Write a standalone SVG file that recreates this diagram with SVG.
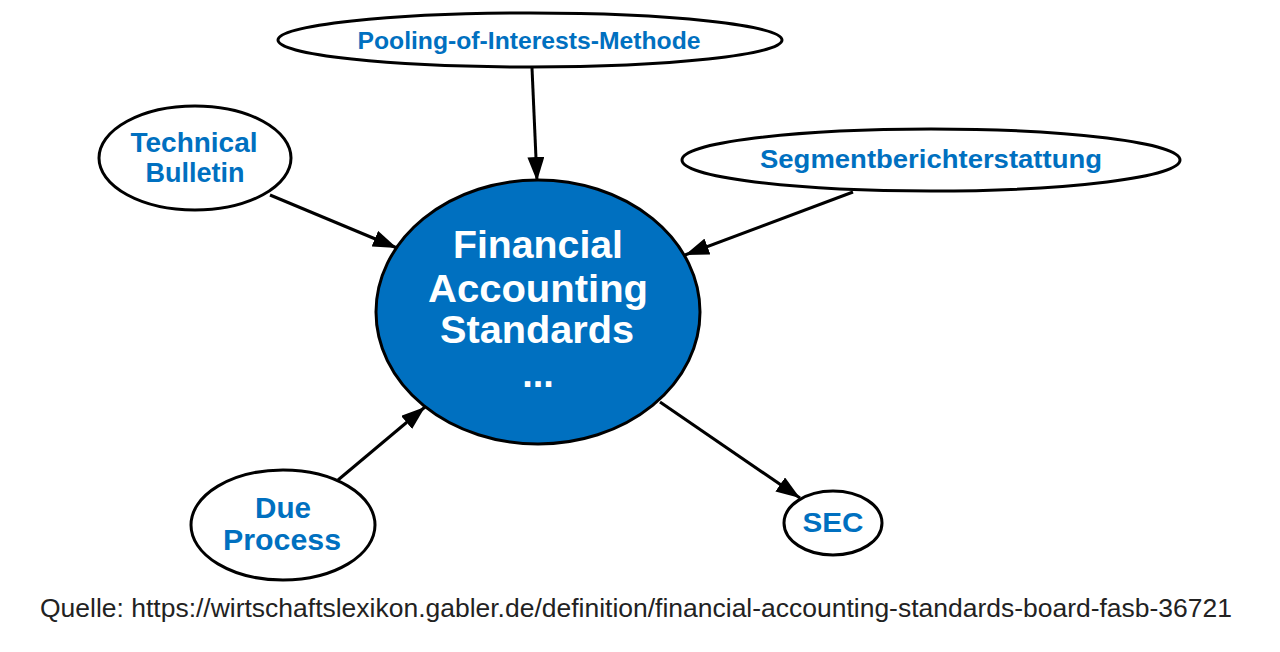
<svg xmlns="http://www.w3.org/2000/svg" width="1280" height="652" viewBox="0 0 1280 652">
<style>
.n{fill:#fff;stroke:#000;stroke-width:3}
.c{fill:#0070c0;stroke:#000;stroke-width:3}
.t{font-family:"Liberation Sans",Arial,sans-serif;font-weight:bold;fill:#0070c0;text-anchor:middle}
.ct{font-family:"Liberation Sans",Arial,sans-serif;font-weight:bold;font-size:38px;fill:#fff;text-anchor:middle}
.f{font-family:"Liberation Sans",Arial,sans-serif;font-size:25px;fill:#222}
</style>
<defs>
<marker id="b" viewBox="0 0 24 17" refX="24" refY="8.5" markerWidth="24" markerHeight="17" orient="auto" markerUnits="userSpaceOnUse">
<path d="M0,0 L24,8.5 L0,17 z" fill="#000"/>
</marker>
</defs>
<rect width="1280" height="652" fill="#fff"/>
<g id="connectors" stroke="#000" stroke-width="3" fill="none">
<line x1="532" y1="68" x2="537" y2="181" marker-end="url(#b)"/>
<line x1="270" y1="195" x2="397" y2="248" marker-end="url(#b)"/>
<line x1="853" y1="192" x2="685" y2="255" marker-end="url(#b)"/>
<line x1="338" y1="480" x2="425" y2="407" marker-end="url(#b)"/>
<line x1="660" y1="402" x2="800" y2="498" marker-end="url(#b)"/>
</g>
<g id="pooling">
<ellipse class="n" cx="530" cy="40" rx="252" ry="27"/>
<text class="t" x="529" y="49" font-size="24" textLength="343" lengthAdjust="spacingAndGlyphs">Pooling-of-Interests-Methode</text>
</g>
<g id="technical">
<ellipse class="n" cx="195" cy="158" rx="96" ry="52"/>
<text class="t" x="194" y="152" font-size="27" textLength="127" lengthAdjust="spacingAndGlyphs">Technical</text>
<text class="t" x="195" y="182" font-size="27" textLength="99" lengthAdjust="spacingAndGlyphs">Bulletin</text>
</g>
<g id="segment">
<ellipse class="n" cx="931" cy="160" rx="249" ry="31"/>
<text class="t" x="931" y="168" font-size="25" textLength="342" lengthAdjust="spacingAndGlyphs">Segmentberichterstattung</text>
</g>
<g id="fas">
<ellipse class="c" cx="538" cy="312" rx="162" ry="132"/>
<text class="ct" x="538" y="258" textLength="170" lengthAdjust="spacingAndGlyphs">Financial</text>
<text class="ct" x="538" y="302" textLength="220" lengthAdjust="spacingAndGlyphs">Accounting</text>
<text class="ct" x="537" y="343" textLength="194" lengthAdjust="spacingAndGlyphs">Standards</text>
<text class="ct" x="538" y="387">...</text>
</g>
<g id="dueprocess">
<ellipse class="n" cx="283" cy="525" rx="92" ry="55"/>
<text class="t" x="283" y="518" font-size="29" textLength="56" lengthAdjust="spacingAndGlyphs">Due</text>
<text class="t" x="282" y="550" font-size="29" textLength="118" lengthAdjust="spacingAndGlyphs">Process</text>
</g>
<g id="sec">
<ellipse class="n" cx="833" cy="523" rx="49" ry="32"/>
<text class="t" x="833" y="532" font-size="28" textLength="61" lengthAdjust="spacingAndGlyphs">SEC</text>
</g>
<text class="f" x="40" y="617" textLength="1192" lengthAdjust="spacingAndGlyphs">Quelle: https://wirtschaftslexikon.gabler.de/definition/financial-accounting-standards-board-fasb-36721</text>
</svg>
